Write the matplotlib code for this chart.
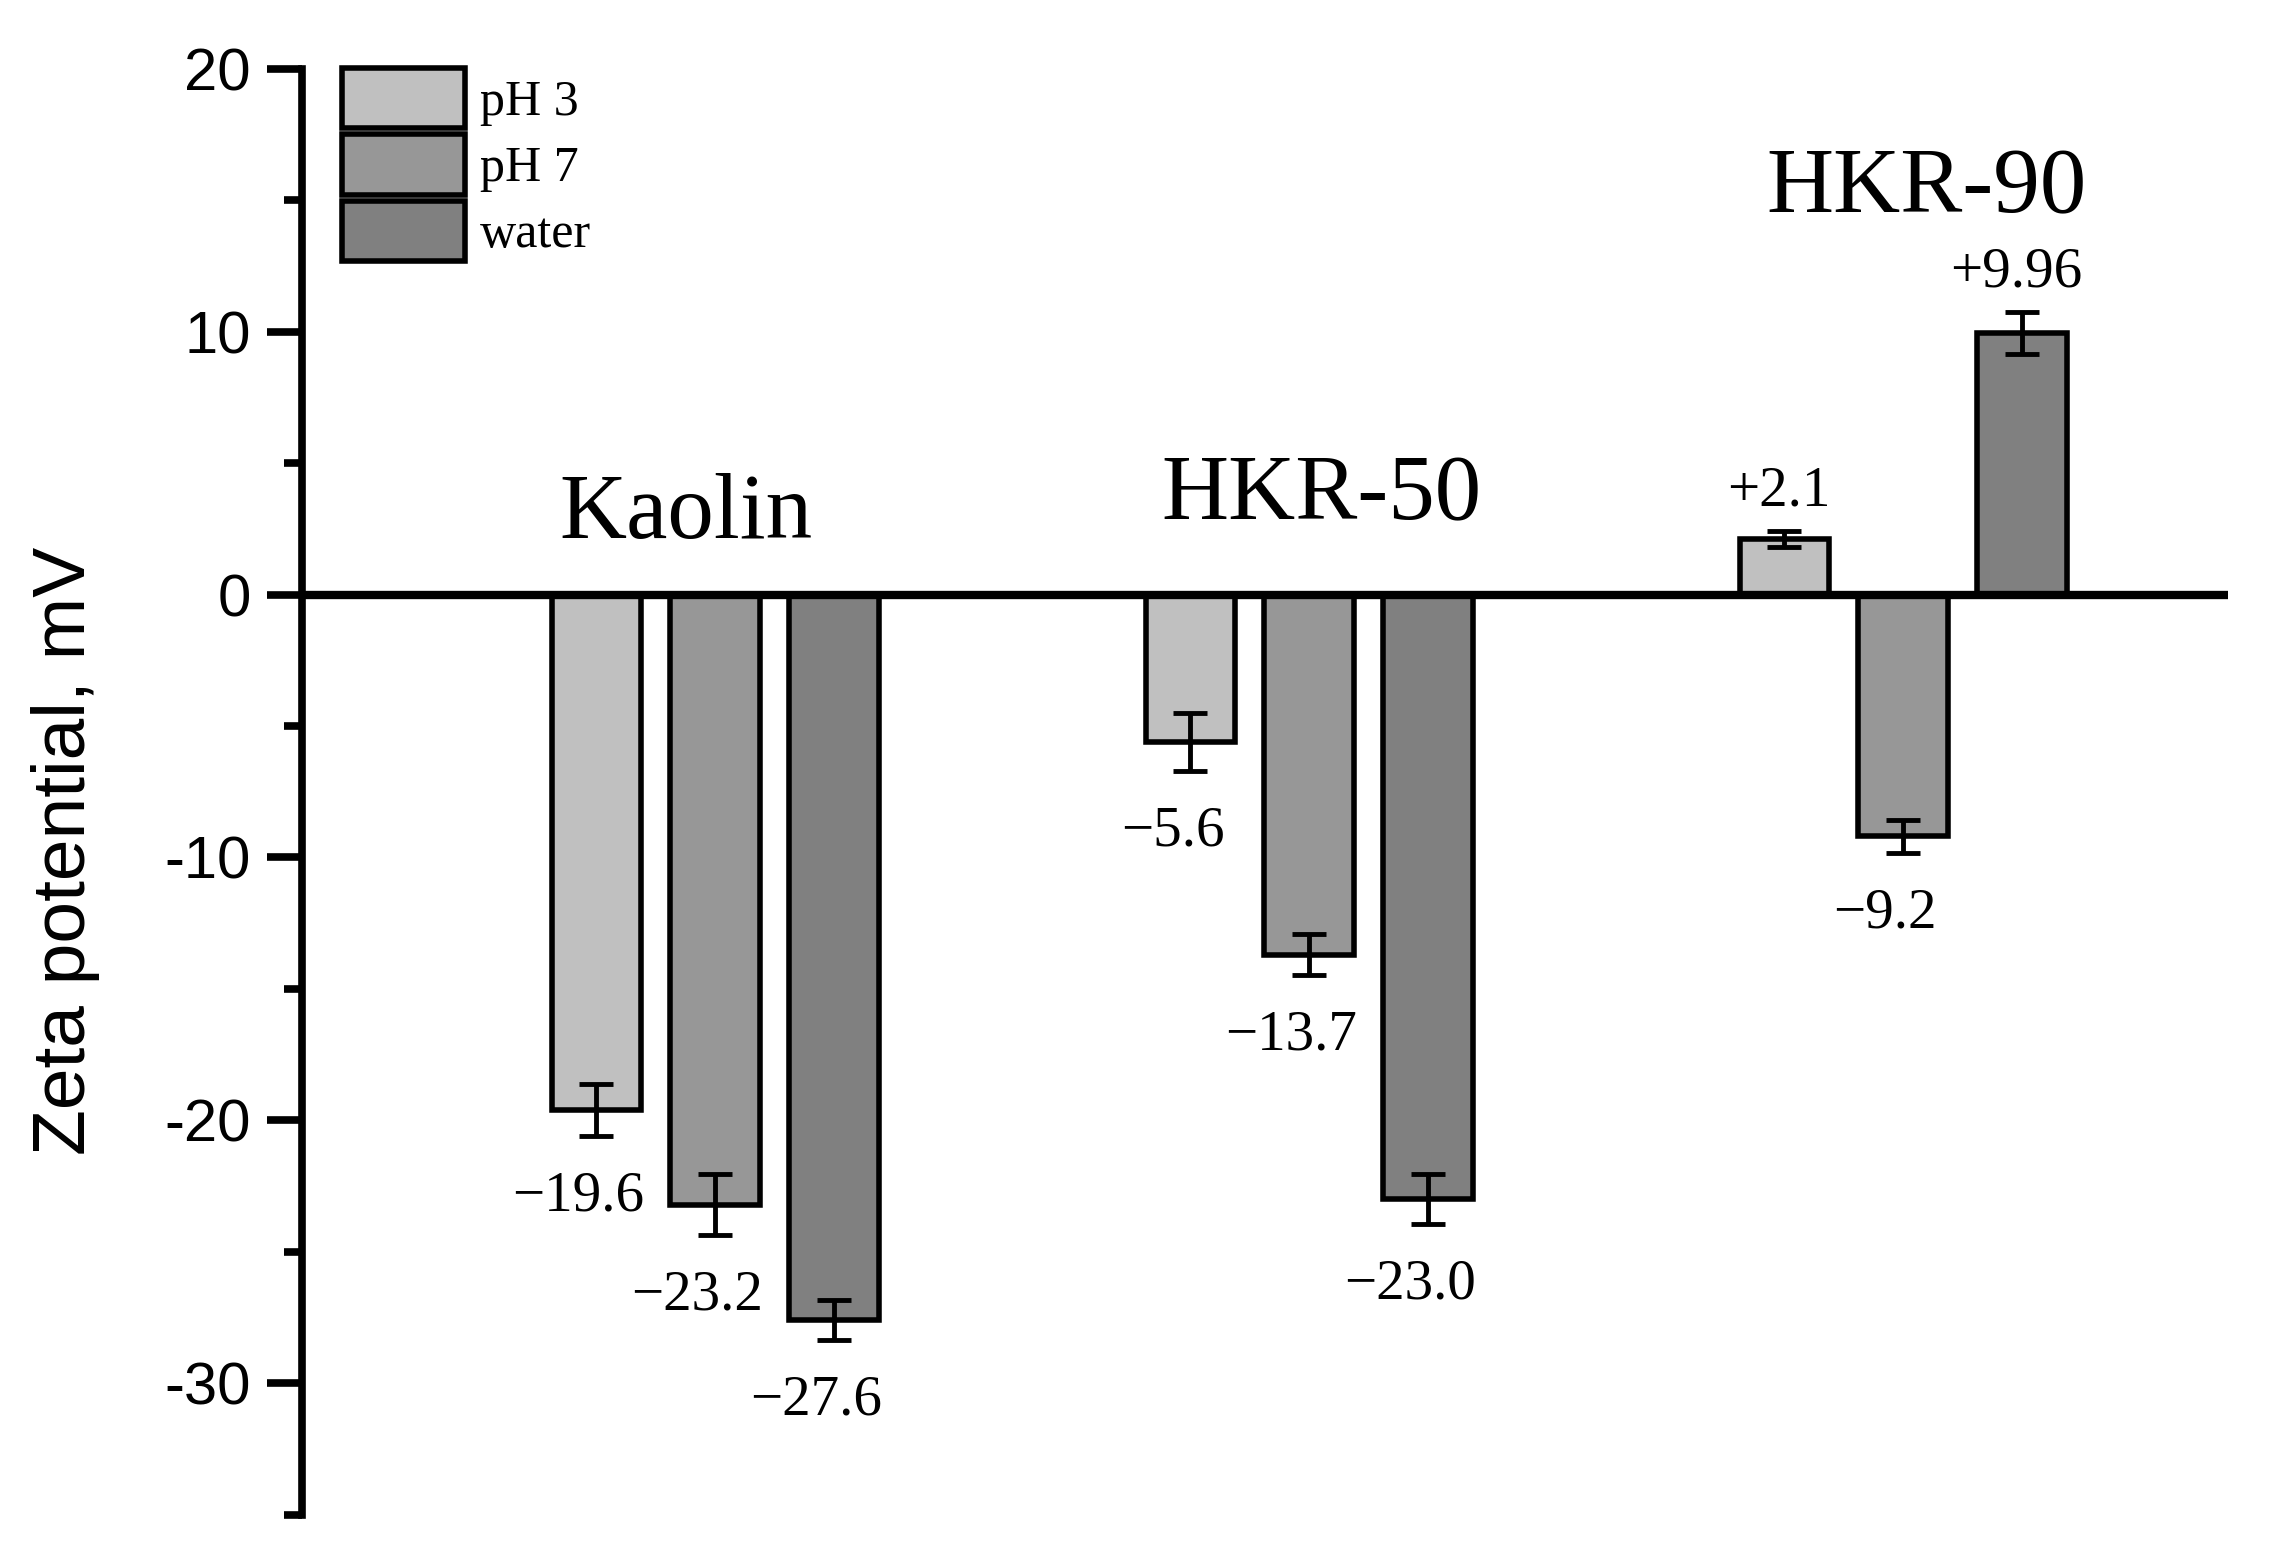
import matplotlib
matplotlib.use('Agg')
import matplotlib.pyplot as plt
from matplotlib.patches import Patch
import numpy as np

# data
samples = ['Kaolin', 'HKR-50', 'HKR-90']
media = ['pH 3', 'pH 7', 'water']
zeta_ph3 = [-19.6, -5.6, 2.1]
zeta_ph7 = [-23.2, -13.7, -9.2]
zeta_water = [-27.6, -23.0, 9.96]
err_ph3 = [1.0, 1.1, 0.3]
err_ph7 = [1.15, 0.77, 0.63]
err_water = [0.77, 0.95, 0.8]
labels_ph3 = ['\u221219.6', '\u22125.6', '+2.1']
labels_ph7 = ['\u221223.2', '\u221213.7', '\u22129.2']
labels_water = ['\u221227.6', '\u221223.0', '+9.96']
yticks = [20, 10, 0, -10, -20, -30]
yticklabels = ['20', '10', '0', '-10', '-20', '-30']

colors = ['#c0c0c0', '#979797', '#808080']
serif = 'Liberation Serif'
sans = 'Liberation Sans'

fig = plt.figure(figsize=(22.73, 15.60), dpi=100)
ax = fig.add_axes([0.133, 0.029, 0.847, 0.927])

x = np.arange(len(samples))
offsets = [-0.2, 0.0, 0.2]
width = 0.151

series = [(zeta_ph3, err_ph3, labels_ph3), (zeta_ph7, err_ph7, labels_ph7), (zeta_water, err_water, labels_water)]
for k, (vals, errs, labs) in enumerate(series):
    xp = x + offsets[k]
    ax.bar(xp, vals, width, color=colors[k], edgecolor='black', linewidth=4, label=media[k], zorder=2)
    ax.errorbar(xp, vals, yerr=errs, fmt='none', ecolor='black', elinewidth=3.5,
                capsize=12, capthick=3.5, zorder=3)
    for xi, v, e, s in zip(xp, vals, errs, labs):
        if v < 0:
            ax.text(xi - 0.03, v - e - 2.3, s, ha='center', va='center', fontsize=41, family=serif)
        else:
            ax.text(xi - 0.01, v + e + 1.5, s, ha='center', va='center', fontsize=41, family=serif)

# sample names
ax.text(x[0] - 0.05, 3.0, samples[0], ha='center', va='center', fontsize=67, family=serif)
ax.text(x[1] + 0.02, 3.7, samples[1], ha='center', va='center', fontsize=67, family=serif)
ax.text(x[2] + 0.04, 15.4, samples[2], ha='center', va='center', fontsize=67, family=serif)

ax.axhline(0, color='black', linewidth=6, zorder=4)

ax.set_xlim(-0.695, 2.546)
ax.set_ylim(-35, 20)
ax.set_xticks([])
ax.set_yticks(yticks)
ax.set_yticklabels(yticklabels, fontsize=43, family=sans)
ax.set_yticks(np.arange(-35, 20, 5), minor=True)
ax.tick_params(axis='y', which='major', direction='out', length=25, width=5.5, pad=12)
ax.tick_params(axis='y', which='minor', direction='out', length=13, width=5.5)

for side in ['top', 'right', 'bottom']:
    ax.spines[side].set_visible(False)
ax.spines['left'].set_linewidth(5.5)

ax.set_ylabel('Zeta potential, mV', fontsize=54, family=sans)
ax.yaxis.set_label_coords(-0.105, 0.459)

handles = [Patch(facecolor=colors[k], edgecolor='black', linewidth=4, label=media[k]) for k in range(3)]
ax.legend(handles=handles, loc='upper left', bbox_to_anchor=(342 / 2273, 1 - 68 / 1560),
          bbox_transform=fig.transFigure, frameon=False, borderpad=0, borderaxespad=0,
          handlelength=2.45, handleheight=1.48, labelspacing=0.12, handletextpad=0.3,
          prop={'family': serif, 'size': 36})

plt.savefig('out.png', dpi=100)
plt.close()
